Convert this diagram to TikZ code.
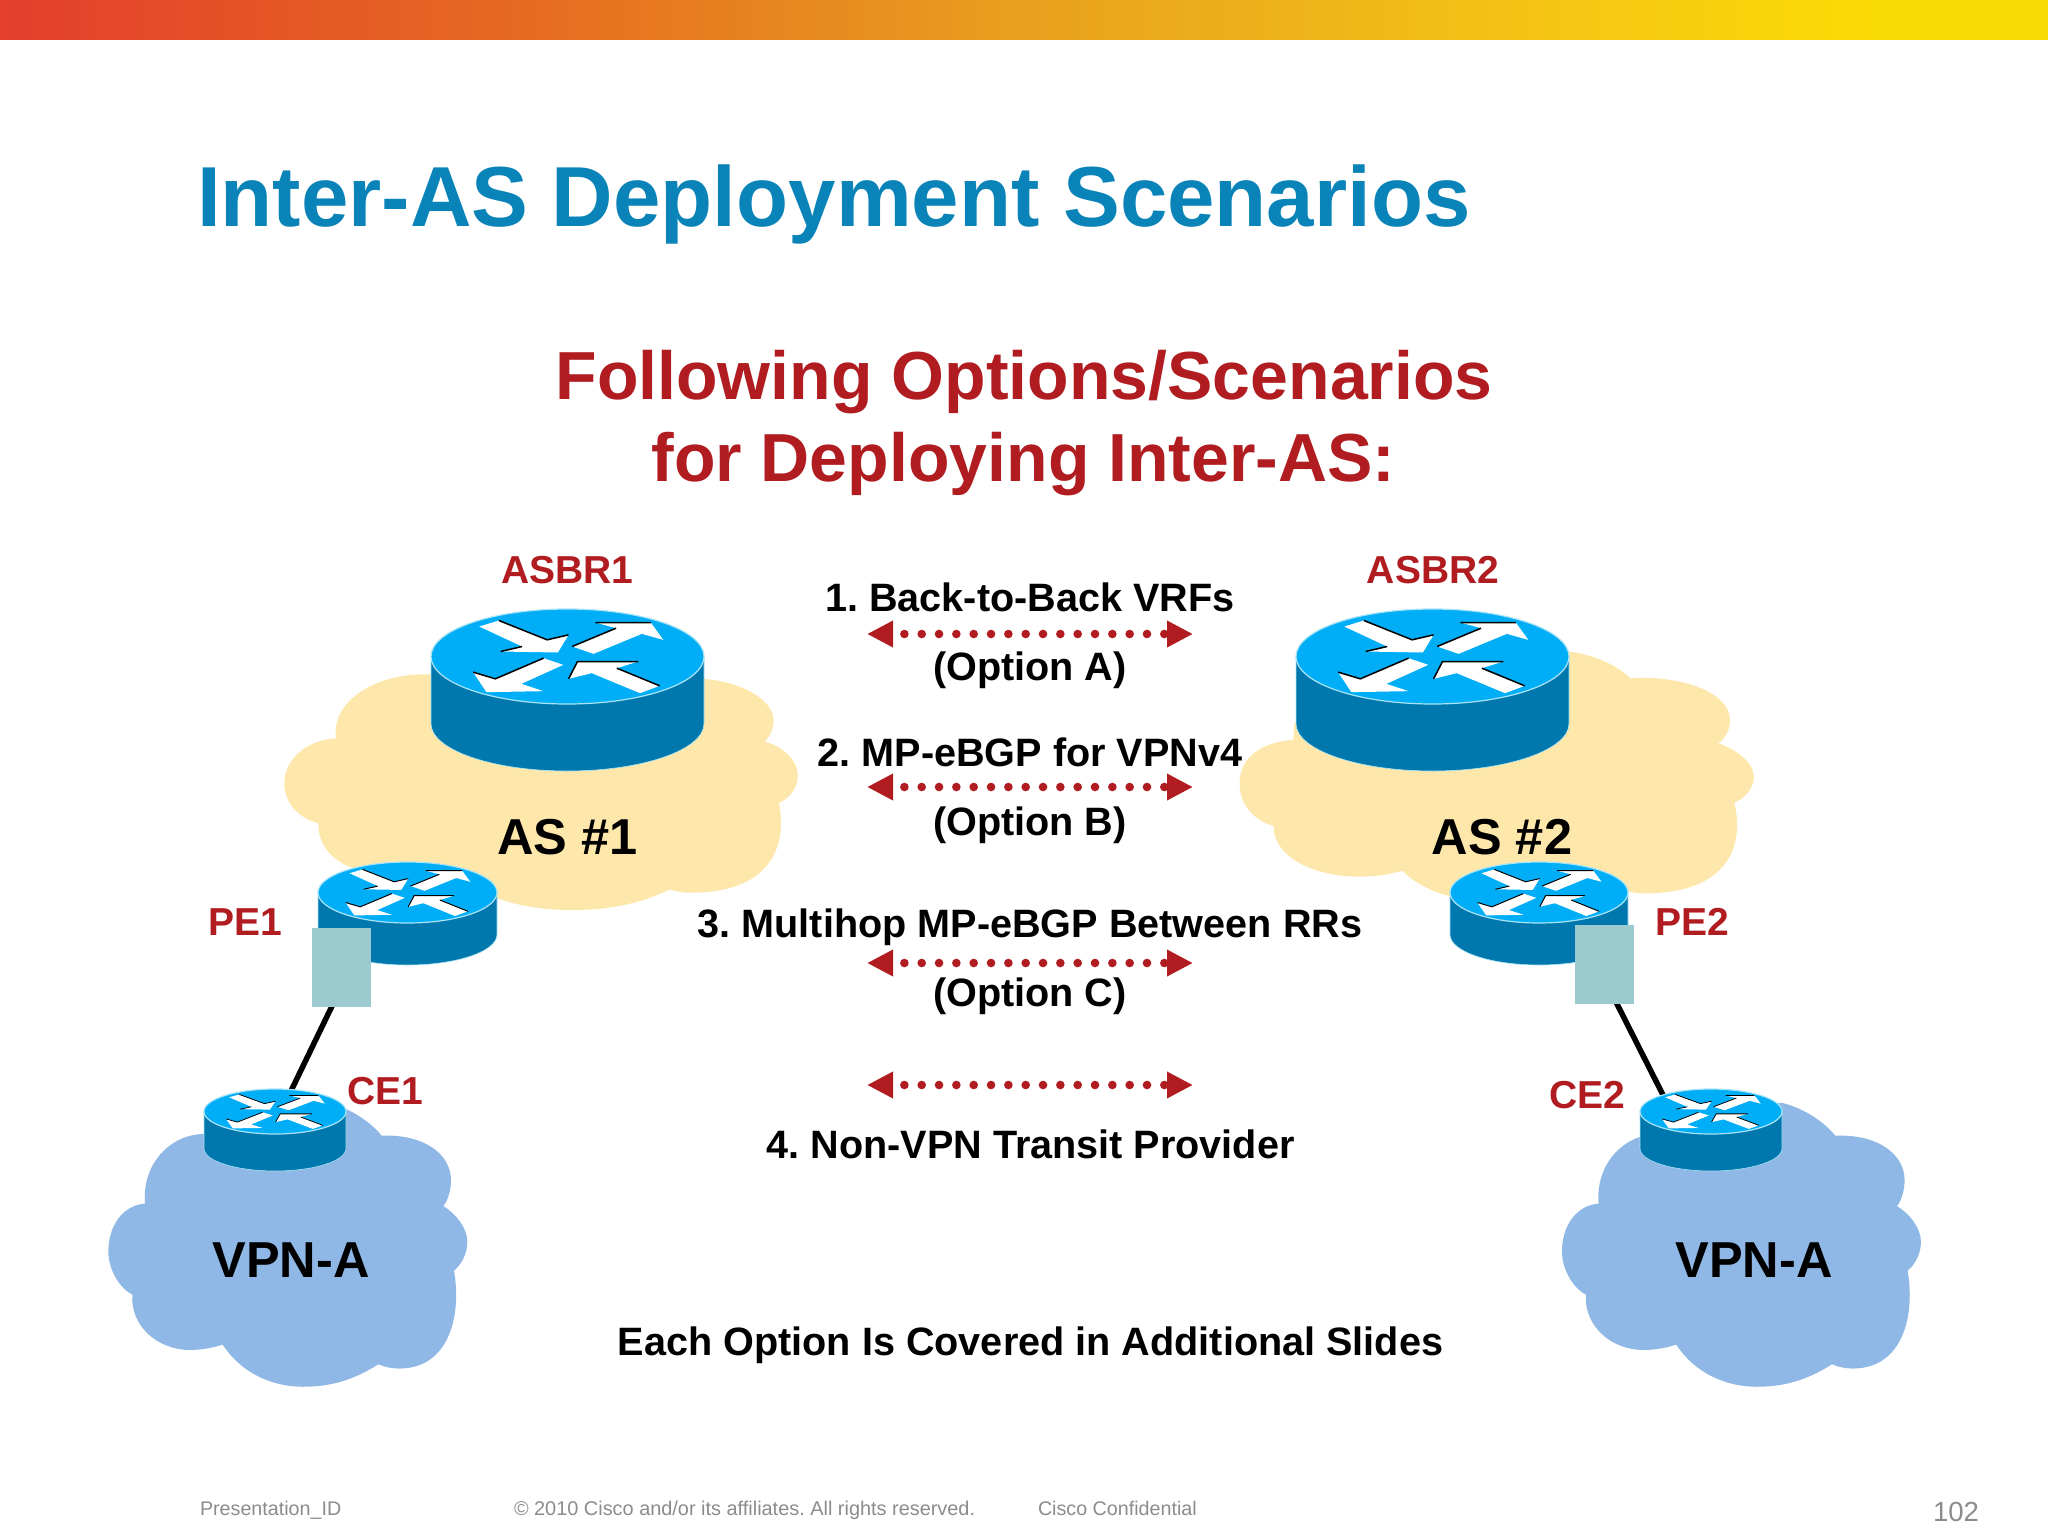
\documentclass[tikz,border=0pt]{standalone}
\usepackage{fontspec}
\setmainfont{Liberation Sans}
\frenchspacing
\usetikzlibrary{arrows.meta}
\definecolor{titleblue}{HTML}{0A84B8}
\definecolor{optred}{HTML}{B01C20}
\definecolor{cloudyellow}{HTML}{FEE7AB}
\definecolor{cloudblue}{HTML}{8FB8E6}
\definecolor{routertop}{HTML}{00AEF8}
\definecolor{routerside}{HTML}{0077AD}
\definecolor{routeredge}{HTML}{A8E4F5}
\definecolor{tealbox}{HTML}{9BCBCE}
\definecolor{footgrey}{HTML}{8C8C8C}
\definecolor{barA}{HTML}{E33F2C}
\definecolor{barB}{HTML}{E66921}
\definecolor{barC}{HTML}{E8A01E}
\definecolor{barD}{HTML}{F5C415}
\definecolor{barE}{HTML}{FADC05}
\pgfdeclarehorizontalshading{barshade}{100bp}{
  color(0bp)=(barA);
  color(25bp)=(barA);
  color(37.5bp)=(barB);
  color(50bp)=(barC);
  color(62.5bp)=(barD);
  color(71bp)=(barE);
  color(100bp)=(barE)}
\newcommand{\pxfont}[1]{\fontsize{#1pt}{#1pt}\selectfont\bfseries}
\newcommand{\pxplain}[1]{\fontsize{#1pt}{#1pt}\selectfont}
% cx, cy, rx, ry, h
\newcommand{\ciscorouter}[5]{%
  \begin{scope}[shift={(#1,#2)}]
    \fill[routerside,draw=routeredge,line width=0.6pt] (-#3,0) -- (-#3,#5) arc[start angle=180,end angle=360,x radius=#3pt,y radius=#4pt] -- (#3,0) -- cycle;
    \fill[routertop,draw=routeredge,line width=1.2pt] (0,0) ellipse [x radius=#3pt,y radius=#4pt];
    \begin{scope}[xscale=#3/382,yscale=#4/142.5,shift={(-832,-380)}]
      \fill[white] (585,290) -- (640,272) -- (775,330) -- (835,315) -- (805,368) -- (645,365) -- (705,350) -- cycle;
      \fill[white] (845,350) -- (968,295) -- (910,278) -- (1065,278) -- (1100,330) -- (1040,312) -- (905,372) -- cycle;
      \fill[white] (568,427) -- (630,447) -- (765,385) -- (820,405) -- (703,462) -- (765,484) -- (605,487) -- cycle;
      \fill[white] (835,447) -- (860,395) -- (1030,395) -- (970,415) -- (1090,468) -- (1035,490) -- (900,430) -- cycle;
      \draw[black,line width=#3*0.011pt] (640,272) -- (775,330) -- (835,315) (645,365) -- (705,350);
      \draw[black,line width=#3*0.011pt] (845,350) -- (968,295) (910,278) -- (1065,278);
      \draw[black,line width=#3*0.011pt] (568,427) -- (630,447) -- (765,385);
      \draw[black,line width=#3*0.011pt] (835,447) -- (860,395) -- (1030,395) (970,415) -- (1090,468);
    \end{scope}
  \end{scope}}
\newcommand{\bluecloud}[1]{%
  \fill[cloudblue,shift={(#1,850)},xscale=1/3,yscale=1/2.8]
    (165,990) .. controls (155,880) and (240,795) .. (345,795) -- (450,720) -- (715,708)
    .. controls (790,725) and (850,770) .. (875,800)
    .. controls (1000,795) and (1083,850) .. (1083,925)
    .. controls (1083,950) and (1075,980) .. (1060,997)
    .. controls (1100,1020) and (1132,1060) .. (1132,1097)
    .. controls (1132,1130) and (1115,1160) .. (1092,1178)
    .. controls (1115,1300) and (1080,1450) .. (930,1452)
    .. controls (905,1452) and (885,1448) .. (865,1440)
    .. controls (790,1485) and (720,1503) .. (640,1503)
    .. controls (540,1503) and (450,1460) .. (398,1385)
    .. controls (365,1395) and (330,1400) .. (300,1400)
    .. controls (200,1400) and (120,1330) .. (127,1245)
    .. controls (85,1225) and (55,1170) .. (55,1125)
    .. controls (55,1050) and (100,995) .. (165,990) -- cycle;}
\tikzset{
  txt/.style={anchor=base,inner sep=0pt,outer sep=0pt,align=center},
  redlabel/.style={txt,text=optred,font=\pxfont{39}},
  optlabel/.style={txt,text=black,font=\pxfont{39.6}},
  biglabel/.style={txt,text=black,font=\pxfont{50.5}},
  footer/.style={anchor=base west,inner sep=0pt,outer sep=0pt,text=footgrey,font=\pxplain{19.7}},
  tealsq/.style={fill=tealbox,draw=none,inner sep=0pt,outer sep=0pt,minimum width=59pt,minimum height=79pt},
  link/.style={black,line width=5.5pt},
  dotlink/.style={optred,line width=8.6pt,line cap=round,dash pattern=on 0pt off 17.33pt,dash phase=4.33pt,
    {Triangle[length=26pt,width=25pt]}-{Triangle[length=26pt,width=25pt]}}
}
\begin{document}
\begin{tikzpicture}[x=1pt,y=-1pt]
\useasboundingbox (0,0) rectangle (2048,1536);
\fill[white] (0,0) rectangle (2048,1536);
\shade[shading=barshade] (0,0) rectangle (2048,40);

% title
\node[txt,text=titleblue,font=\pxfont{85.2},anchor=base west] (title) at (197,226.5) {Inter-AS Deployment Scenarios};
\node[txt,text=optred,font=\pxfont{68}] (sub1) at (1024,399) {Following Options/Scenarios};
\node[txt,text=optred,font=\pxfont{68}] (sub2) at (1023.5,481) {for Deploying Inter-AS:};

% clouds
\fill[cloudyellow,shift={(270,530)},xscale=1/2.8,yscale=1/3]
  (185,625) .. controls (170,510) and (300,433) .. (430,433) -- (1000,433) -- (1215,447)
  .. controls (1320,455) and (1410,510) .. (1410,570)
  .. controls (1410,595) and (1400,620) .. (1385,635)
  .. controls (1440,650) and (1478,695) .. (1478,735)
  .. controls (1478,775) and (1455,805) .. (1425,818)
  .. controls (1450,950) and (1400,1088) .. (1180,1088)
  .. controls (1155,1088) and (1135,1085) .. (1120,1078)
  .. controls (1040,1120) and (950,1140) .. (850,1140)
  .. controls (750,1140) and (680,1125) .. (600,1090)
  -- (250,1020)
  .. controls (180,1000) and (135,950) .. (135,880)
  .. controls (70,860) and (40,810) .. (40,760)
  .. controls (40,690) and (100,630) .. (185,625) -- cycle;
\fill[cloudyellow,shift={(1220,580)},xscale=1/2.8,yscale=1/3]
  (205,480) -- (208,430) -- (600,200) -- (978,215)
  .. controls (1050,225) and (1110,255) .. (1150,295)
  .. controls (1300,285) and (1428,340) .. (1428,420)
  .. controls (1428,450) and (1415,475) .. (1395,490)
  .. controls (1450,510) and (1495,550) .. (1495,590)
  .. controls (1495,625) and (1470,655) .. (1440,668)
  .. controls (1470,800) and (1420,940) .. (1190,940)
  .. controls (1170,940) and (1150,938) .. (1130,930)
  -- (650,950)
  .. controls (590,935) and (540,905) .. (510,872)
  .. controls (470,885) and (430,890) .. (390,890)
  .. controls (260,890) and (150,830) .. (150,738)
  .. controls (90,720) and (55,670) .. (55,610)
  .. controls (55,530) and (120,485) .. (205,480) -- cycle;
\bluecloud{90}
\bluecloud{1543.6}

% links
\coordinate (pe1link) at (333,1004);
\coordinate (ce1link) at (290,1093);
\coordinate (pe2link) at (1615,1000);
\coordinate (ce2link) at (1663,1095);
\draw[link] (pe1link) -- (ce1link);
\draw[link] (pe2link) -- (ce2link);

% routers
\ciscorouter{567.5}{656.5}{136.5}{47.5}{67}
\ciscorouter{1432.5}{656.5}{136.5}{47.5}{67}
\ciscorouter{407.5}{892.5}{89.5}{30.5}{42}
\ciscorouter{1539}{892.5}{89}{30.5}{42}
\ciscorouter{275}{1111.5}{71}{22.5}{37}
\ciscorouter{1711}{1111.5}{71}{22.5}{37}

\node[tealsq] (tealA) at (341.5,967) {};
\node[tealsq] (tealB) at (1604,964) {};

% router labels
\node[redlabel] (asbr1) at (567.5,583.5) {ASBR1};
\node[redlabel] (asbr2) at (1433,583.5) {ASBR2};
\node[redlabel] (pe1) at (245.5,935) {PE1};
\node[redlabel] (pe2) at (1692,935) {PE2};
\node[redlabel] (ce1) at (385,1104) {CE1};
\node[redlabel] (ce2) at (1587.5,1108) {CE2};
\node[biglabel] (as1) at (567.5,854) {AS \#1};
\node[biglabel] (as2) at (1502,854) {AS \#2};
\node[biglabel] (vpn1) at (291,1277) {VPN-A};
\node[biglabel] (vpn2) at (1754,1277) {VPN-A};

% options
\node[optlabel] (o1) at (1030,611) {1. Back-to-Back VRFs};
\node[optlabel] (o1b) at (1030,680) {(Option A)};
\node[optlabel] (o2) at (1030,766) {2. MP-eBGP for VPNv4};
\node[optlabel] (o2b) at (1030,835.5) {(Option B)};
\node[optlabel] (o3) at (1030,937) {3. Multihop MP-eBGP Between RRs};
\node[optlabel] (o3b) at (1030,1006) {(Option C)};
\node[optlabel] (o4) at (1030.5,1158) {4. Non-VPN Transit Provider};
\node[optlabel] (note) at (1030.5,1355) {Each Option Is Covered in Additional Slides};

\foreach \n/\yy in {a/634,b/787,c/963,d/1085}{
  \coordinate (\n L) at (867,\yy);
  \coordinate (\n R) at (1193,\yy);
  \draw[dotlink] (\n L) -- (\n R);
}

% footer
\node[footer] (f1) at (200,1515) {Presentation\_ID};
\node[footer,font=\pxplain{19.9}] (f2) at (514,1515) {© 2010 Cisco and/or its affiliates. All rights reserved.};
\node[footer] (f3) at (1038,1515) {Cisco Confidential};
\node[footer,font=\pxplain{27.6}] (f4) at (1933,1521) {102};
\end{tikzpicture}
\end{document}
